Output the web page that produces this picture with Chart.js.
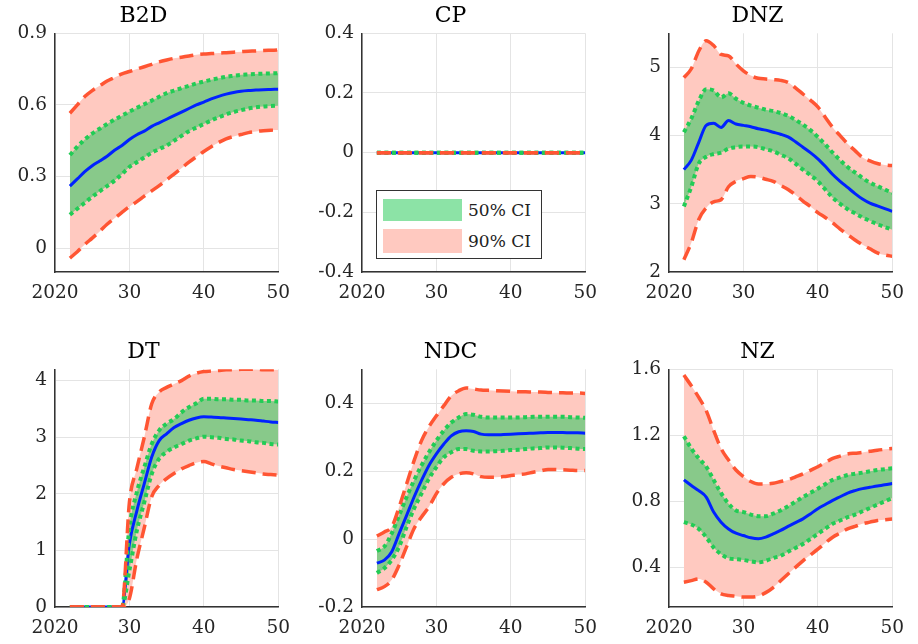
<!DOCTYPE html>
<html>
<head>
<meta charset="utf-8">
<script src="https://cdn.jsdelivr.net/npm/chart.js@4.4.1/dist/chart.umd.min.js"></script>
<style>
  body { margin: 0; background: #fff; }
  #wrap { position: relative; width: 918px; height: 644px; overflow: hidden; background: #fff; }
  #wrap canvas { position: absolute; }
  #legend { position: absolute; left: 376px; top: 190px; width: 164px; height: 67px;
            border: 1.5px solid #333; background: #fff; font-family: "DejaVu Serif", serif;
            font-size: 17px; color: #222; }
  #legend .sw { position: absolute; left: 6px; width: 79px; }
  #legend .lb { position: absolute; left: 91px; line-height: 22px; }
</style>
</head>
<body>
<div id="wrap">
  <canvas id="c1" width="300" height="310" style="left:0px;top:0px"></canvas>
  <canvas id="c2" width="300" height="310" style="left:307px;top:0px"></canvas>
  <canvas id="c3" width="300" height="310" style="left:614px;top:0px"></canvas>
  <canvas id="c4" width="300" height="308" style="left:0px;top:336px"></canvas>
  <canvas id="c5" width="300" height="308" style="left:307px;top:336px"></canvas>
  <canvas id="c6" width="300" height="308" style="left:614px;top:336px"></canvas>
  <div id="legend">
    <div class="sw" style="top:8px;height:22px;background:#8ce3a6"></div>
    <div class="lb" style="top:8px">50% CI</div>
    <div class="sw" style="top:38px;height:24px;background:#ffc9c0"></div>
    <div class="lb" style="top:39px">90% CI</div>
  </div>
</div>
<script>
// years on the x axis
const years = [2022, 2023, 2024, 2025, 2026, 2027, 2028, 2029, 2030, 2031, 2032, 2033, 2034, 2035,
  2036, 2037, 2038, 2039, 2040, 2041, 2042, 2043, 2044, 2045, 2046, 2047, 2048, 2049, 2050];
const xTicks = [2020, 2030, 2040, 2050];
const xTickLabels = ["2020", "30", "40", "50"];

// B2D
const b2dMed  = [0.26, 0.29, 0.32, 0.345, 0.365, 0.385, 0.41, 0.43, 0.455, 0.475, 0.49, 0.51, 0.525, 0.54, 0.555, 0.57, 0.585, 0.60, 0.612, 0.625, 0.636, 0.645, 0.652, 0.657, 0.66, 0.662, 0.664, 0.665, 0.666];
const b2dHi50 = [0.39, 0.425, 0.455, 0.48, 0.50, 0.52, 0.538, 0.555, 0.572, 0.588, 0.603, 0.618, 0.634, 0.649, 0.66, 0.67, 0.68, 0.69, 0.698, 0.705, 0.712, 0.718, 0.722, 0.726, 0.728, 0.73, 0.731, 0.732, 0.733];
const b2dLo50 = [0.14, 0.165, 0.19, 0.215, 0.238, 0.26, 0.283, 0.31, 0.34, 0.36, 0.38, 0.40, 0.415, 0.43, 0.45, 0.47, 0.49, 0.505, 0.52, 0.535, 0.548, 0.56, 0.57, 0.578, 0.585, 0.59, 0.593, 0.595, 0.597];
const b2dHi90 = [0.565, 0.60, 0.635, 0.66, 0.68, 0.70, 0.715, 0.73, 0.74, 0.75, 0.76, 0.77, 0.78, 0.788, 0.795, 0.80, 0.805, 0.81, 0.813, 0.815, 0.817, 0.819, 0.821, 0.823, 0.825, 0.826, 0.828, 0.829, 0.83];
const b2dLo90 = [-0.042, -0.015, 0.015, 0.042, 0.07, 0.10, 0.125, 0.15, 0.174, 0.195, 0.218, 0.24, 0.262, 0.286, 0.31, 0.335, 0.36, 0.383, 0.405, 0.425, 0.443, 0.458, 0.468, 0.476, 0.484, 0.489, 0.492, 0.494, 0.495];
const b2dTicks = [0, 0.3, 0.6, 0.9];

// CP (flat at zero)
const cpZero = [0, 0, 0, 0, 0, 0, 0, 0, 0, 0, 0, 0, 0, 0, 0, 0, 0, 0, 0, 0, 0, 0, 0, 0, 0, 0, 0, 0, 0];
const cpTicks = [-0.4, -0.2, 0, 0.2, 0.4];

// DNZ
const dnzMed  = [3.50, 3.64, 3.90, 4.15, 4.18, 4.12, 4.22, 4.17, 4.15, 4.13, 4.10, 4.08, 4.05, 4.02, 3.98, 3.91, 3.83, 3.75, 3.66, 3.55, 3.43, 3.33, 3.24, 3.15, 3.07, 3.01, 2.97, 2.93, 2.89];
const dnzHi50 = [4.05, 4.25, 4.51, 4.68, 4.66, 4.56, 4.62, 4.54, 4.48, 4.44, 4.41, 4.38, 4.36, 4.33, 4.29, 4.23, 4.16, 4.08, 3.98, 3.87, 3.75, 3.64, 3.54, 3.46, 3.38, 3.31, 3.26, 3.21, 3.16];
const dnzLo50 = [2.96, 3.25, 3.59, 3.69, 3.73, 3.75, 3.81, 3.83, 3.84, 3.84, 3.83, 3.80, 3.77, 3.72, 3.67, 3.59, 3.50, 3.42, 3.33, 3.21, 3.09, 3.00, 2.92, 2.86, 2.80, 2.75, 2.70, 2.66, 2.62];
const dnzHi90 = [4.85, 4.98, 5.24, 5.39, 5.32, 5.19, 5.17, 5.05, 4.95, 4.88, 4.84, 4.83, 4.82, 4.81, 4.78, 4.70, 4.61, 4.52, 4.42, 4.27, 4.12, 4.00, 3.88, 3.78, 3.68, 3.63, 3.59, 3.57, 3.56];
const dnzLo90 = [2.18, 2.43, 2.77, 2.94, 3.03, 3.06, 3.25, 3.33, 3.37, 3.40, 3.39, 3.36, 3.33, 3.27, 3.21, 3.13, 3.04, 2.96, 2.87, 2.80, 2.72, 2.63, 2.55, 2.47, 2.40, 2.34, 2.28, 2.25, 2.23];
const dnzTicks = [2, 3, 4, 5];

// DT
const dtMed  = [0, 0, 0, 0, 0, 0, 0, 0, 1.12, 1.70, 2.18, 2.65, 2.94, 3.06, 3.17, 3.24, 3.30, 3.34, 3.36, 3.355, 3.35, 3.34, 3.33, 3.32, 3.31, 3.30, 3.285, 3.27, 3.26];
const dtHi50 = [0, 0, 0, 0, 0, 0, 0, 0, 1.41, 2.03, 2.47, 2.88, 3.12, 3.24, 3.32, 3.44, 3.53, 3.60, 3.68, 3.68, 3.67, 3.67, 3.66, 3.66, 3.65, 3.65, 3.64, 3.64, 3.63];
const dtLo50 = [0, 0, 0, 0, 0, 0, 0, 0, 0.65, 1.35, 1.85, 2.35, 2.62, 2.74, 2.82, 2.88, 2.94, 2.98, 3.01, 3.00, 2.99, 2.97, 2.96, 2.94, 2.93, 2.91, 2.90, 2.88, 2.87];
const dtHi90 = [0, 0, 0, 0, 0, 0, 0, 0, 1.85, 2.45, 3.00, 3.59, 3.80, 3.88, 3.94, 4.00, 4.08, 4.13, 4.16, 4.17, 4.18, 4.19, 4.19, 4.20, 4.20, 4.20, 4.19, 4.19, 4.19];
const dtLo90 = [0, 0, 0, 0, 0, 0, 0, 0, 0.15, 0.85, 1.40, 1.95, 2.15, 2.27, 2.36, 2.44, 2.50, 2.55, 2.57, 2.53, 2.49, 2.46, 2.43, 2.41, 2.39, 2.37, 2.35, 2.34, 2.33];
const dtTicks = [0, 1, 2, 3, 4];

// NDC
const ndcMed  = [-0.071, -0.062, -0.037, 0.017, 0.07, 0.124, 0.173, 0.217, 0.251, 0.28, 0.304, 0.316, 0.319, 0.317, 0.309, 0.307, 0.307, 0.308, 0.309, 0.31, 0.311, 0.312, 0.313, 0.314, 0.314, 0.314, 0.313, 0.313, 0.312];
const ndcHi50 = [-0.035, -0.022, 0.017, 0.07, 0.124, 0.173, 0.217, 0.256, 0.29, 0.32, 0.343, 0.358, 0.368, 0.366, 0.36, 0.358, 0.358, 0.358, 0.358, 0.358, 0.359, 0.36, 0.36, 0.36, 0.36, 0.36, 0.359, 0.358, 0.357];
const ndcLo50 = [-0.10, -0.086, -0.061, -0.022, 0.036, 0.09, 0.134, 0.178, 0.212, 0.241, 0.256, 0.265, 0.265, 0.26, 0.258, 0.258, 0.259, 0.26, 0.262, 0.263, 0.265, 0.267, 0.268, 0.27, 0.27, 0.269, 0.268, 0.266, 0.265];
const ndcHi90 = [0.009, 0.021, 0.036, 0.095, 0.163, 0.231, 0.29, 0.331, 0.363, 0.393, 0.422, 0.437, 0.445, 0.442, 0.439, 0.438, 0.437, 0.436, 0.435, 0.434, 0.434, 0.433, 0.433, 0.432, 0.431, 0.431, 0.43, 0.43, 0.429];
const ndcLo90 = [-0.149, -0.14, -0.12, -0.076, -0.022, 0.031, 0.065, 0.095, 0.134, 0.163, 0.182, 0.192, 0.195, 0.192, 0.184, 0.182, 0.182, 0.184, 0.187, 0.19, 0.192, 0.197, 0.201, 0.205, 0.205, 0.204, 0.203, 0.202, 0.202];
const ndcTicks = [-0.2, 0, 0.2, 0.4];

// NZ
const nzMed  = [0.93, 0.896, 0.865, 0.826, 0.735, 0.674, 0.633, 0.607, 0.593, 0.579, 0.573, 0.583, 0.603, 0.624, 0.648, 0.671, 0.694, 0.724, 0.755, 0.781, 0.806, 0.828, 0.85, 0.865, 0.877, 0.885, 0.893, 0.90, 0.908];
const nzHi50 = [1.194, 1.12, 1.06, 1.01, 0.93, 0.85, 0.786, 0.745, 0.735, 0.72, 0.71, 0.71, 0.725, 0.745, 0.77, 0.798, 0.826, 0.852, 0.877, 0.904, 0.93, 0.945, 0.96, 0.967, 0.974, 0.982, 0.99, 0.995, 1.0];
const nzLo50 = [0.674, 0.66, 0.633, 0.583, 0.52, 0.48, 0.455, 0.45, 0.445, 0.437, 0.43, 0.44, 0.457, 0.47, 0.495, 0.518, 0.542, 0.572, 0.603, 0.634, 0.664, 0.684, 0.704, 0.72, 0.74, 0.76, 0.78, 0.80, 0.82];
const nzHi90 = [1.565, 1.50, 1.43, 1.35, 1.23, 1.12, 1.05, 0.99, 0.95, 0.92, 0.905, 0.905, 0.91, 0.92, 0.93, 0.948, 0.966, 0.988, 1.01, 1.035, 1.06, 1.074, 1.087, 1.092, 1.096, 1.103, 1.11, 1.115, 1.12];
const nzLo90 = [0.31, 0.32, 0.33, 0.31, 0.27, 0.24, 0.23, 0.225, 0.22, 0.22, 0.227, 0.247, 0.278, 0.319, 0.36, 0.40, 0.44, 0.475, 0.51, 0.548, 0.583, 0.608, 0.633, 0.648, 0.664, 0.674, 0.684, 0.689, 0.693];
const nzTicks = [0.4, 0.8, 1.2, 1.6];

const panels = [
  { id: "c1", title: "B2D", med: b2dMed, hi50: b2dHi50, lo50: b2dLo50, hi90: b2dHi90, lo90: b2dLo90, yMin: -0.1, yMax: 0.9, yTicks: b2dTicks, xH: 38 },
  { id: "c2", title: "CP", med: cpZero, hi50: cpZero, lo50: cpZero, hi90: cpZero, lo90: cpZero, yMin: -0.4, yMax: 0.4, yTicks: cpTicks, xH: 38 },
  { id: "c3", title: "DNZ", med: dnzMed, hi50: dnzHi50, lo50: dnzLo50, hi90: dnzHi90, lo90: dnzLo90, yMin: 2, yMax: 5.5, yTicks: dnzTicks, xH: 38 },
  { id: "c4", title: "DT", med: dtMed, hi50: dtHi50, lo50: dtLo50, hi90: dtHi90, lo90: dtLo90, yMin: 0, yMax: 4.2, yTicks: dtTicks, xH: 37 },
  { id: "c5", title: "NDC", med: ndcMed, hi50: ndcHi50, lo50: ndcLo50, hi90: ndcHi90, lo90: ndcLo90, yMin: -0.2, yMax: 0.5, yTicks: ndcTicks, xH: 37 },
  { id: "c6", title: "NZ", med: nzMed, hi50: nzHi50, lo50: nzLo50, hi90: nzHi90, lo90: nzLo90, yMin: 0.16, yMax: 1.6, yTicks: nzTicks, xH: 37 }
];

const FONT = "DejaVu Serif";
const RED = "#ff5533", GREEN = "#22cc55", BLUE = "#0022ff";
const PINK_FILL = "#ffc9c0", GREEN_FILL = "rgba(30,200,90,0.53)";
const GRID = "#e4e4e4", AXIS = "#333333";

const pts = arr => arr.map((v, i) => ({ x: years[i], y: v }));

function lineSet(data, color, width, dash, order) {
  return {
    data: pts(data), borderColor: color, borderWidth: width, borderDash: dash,
    borderCapStyle: "butt", pointRadius: 0, fill: false, order: order,
    cubicInterpolationMode: "monotone"
  };
}

function bandSet(data, target, color, order) {
  return {
    data: pts(data), borderColor: "rgba(0,0,0,0)", borderWidth: 1, pointRadius: 0,
    backgroundColor: color, fill: target, order: order, cubicInterpolationMode: "monotone"
  };
}

panels.forEach(p => {
  new Chart(document.getElementById(p.id), {
    type: "line",
    data: {
      datasets: [
        bandSet(p.hi90, 1, PINK_FILL, 5),            // 0
        lineSet(p.lo90, RED, 3.5, [14, 7], 1),        // 1
        lineSet(p.hi90, RED, 3.5, [14, 7], 1),        // 2
        bandSet(p.hi50, 4, GREEN_FILL, 4),           // 3
        lineSet(p.lo50, GREEN, 4, [4, 3.5], 2),       // 4
        lineSet(p.hi50, GREEN, 4, [4, 3.5], 2),       // 5
        lineSet(p.med, BLUE, 3, [], 3)                // 6
      ]
    },
    options: {
      responsive: false,
      animation: false,
      devicePixelRatio: 1,
      layout: { padding: { right: 13 } },
      plugins: {
        legend: { display: false },
        tooltip: { enabled: false },
        filler: { drawTime: "beforeDatasetsDraw" },
        title: {
          display: true, text: p.title, color: "#000",
          font: { family: FONT, size: 22, weight: "normal", lineHeight: 1.15 },
          padding: { top: 4, bottom: 4 }
        }
      },
      scales: {
        x: {
          type: "linear", min: 2020, max: 2050,
          afterBuildTicks: s => { s.ticks = xTicks.map(v => ({ value: v })); },
          afterFit: s => { s.height = p.xH; },
          ticks: {
            callback: (v, i) => xTickLabels[i], autoSkip: false, maxRotation: 0,
            font: { family: FONT, size: 18.5 }, color: "#262626", padding: 10
          },
          grid: { color: GRID, drawTicks: false },
          border: { color: AXIS, width: 1.5 }
        },
        y: {
          min: p.yMin, max: p.yMax,
          afterBuildTicks: s => { s.ticks = p.yTicks.map(v => ({ value: v })); },
          afterFit: s => { s.width = 55; },
          ticks: {
            callback: v => String(v), font: { family: FONT, size: 18.5 },
            color: "#262626", padding: 8
          },
          grid: { color: GRID, drawTicks: false },
          border: { color: AXIS, width: 1.5 }
        }
      }
    }
  });
});
</script>
</body>
</html>
